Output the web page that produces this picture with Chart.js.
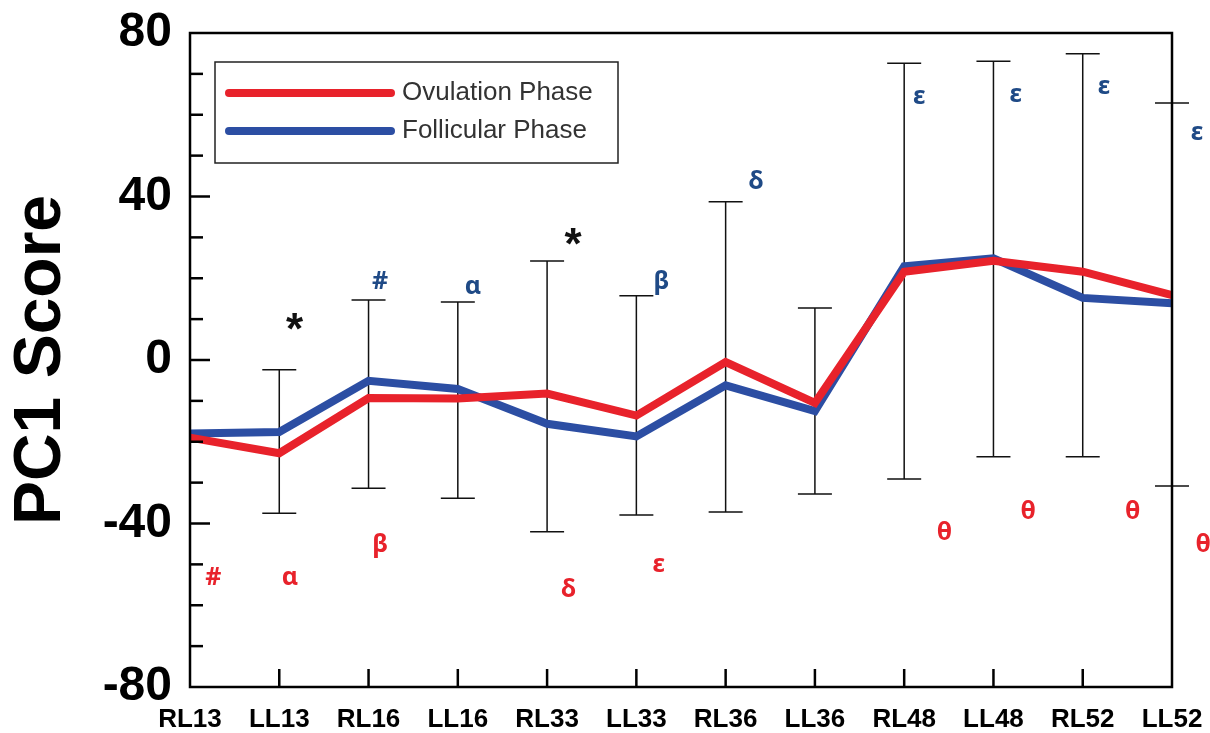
<!DOCTYPE html>
<html>
<head>
<meta charset="utf-8">
<script src="https://cdn.jsdelivr.net/npm/chart.js@4.4.1/dist/chart.umd.min.js"></script>
<style>
  html, body { margin: 0; padding: 0; background: #fff; }
  #wrap { width: 1210px; height: 733px; }
</style>
</head>
<body>
<div id="wrap"><canvas id="pcChart"></canvas></div>
<script>
// data
const categories = ['RL13', 'LL13', 'RL16', 'LL16', 'RL33', 'LL33', 'RL36', 'LL36', 'RL48', 'LL48', 'RL52', 'LL52'];
const ovulation = [-19, -22.8, -9.3, -9.4, -8.2, -13.6, -0.5, -10.5, 21.6, 24.3, 21.6, 15.9];
const follicular = [-18, -17.6, -5.1, -7.1, -15.6, -18.7, -6.2, -12.5, 22.9, 24.9, 15.2, 13.9];
const errHigh = [null, -2.4, 14.7, 14.2, 24.2, 15.7, 38.7, 12.7, 72.6, 73.1, 74.9, 62.9];
const errLow = [null, -37.5, -31.4, -33.8, -42, -37.9, -37.2, -32.8, -29.1, -23.7, -23.7, -30.8];
const yTickLabels = [80, 40, 0, -40, -80];

// significance marks
const blueMarks = ['', '', '#', 'α', '', 'β', 'δ', '', 'ε', 'ε', 'ε', 'ε'];
const starMarks = ['', '*', '', '', '*', '', '', '', '', '', '', ''];
const redMarks = ['#', 'α', 'β', '', 'δ', 'ε', '', '', 'θ', 'θ', 'θ', 'θ'];

// where the marks sit: [shift in categories, y value]
const bluePos = [null, null, [0.13, 19.1], [0.17, 17.9], null, [0.28, 19.1], [0.34, 43.5], null, [0.17, 64.3], [0.25, 64.8], [0.24, 66.8], [0.28, 55.5]];
const starPos = [null, [0.17, 7.0], null, null, [0.29, 27.8], null, null, null, null, null, null, null];
const redPos = [[0.26, -53.3], [0.12, -53.3], [0.13, -45.3], null, [0.24, -56.3], [0.25, -50.2], null, null, [0.45, -42.3], [0.39, -37.2], [0.56, -37.2], [0.35, -45.3]];

const RED = '#e8222b';
const BLUE = '#2c4ea3';
const MARK_BLUE = '#1f4a86';
const AXIS_FONT = 'Arial, "Liberation Sans", sans-serif';

const overlay = {
  id: 'overlay',
  beforeDatasetsDraw(chart) {
    const ctx = chart.ctx, x = chart.scales.x, y = chart.scales.y;
    ctx.save();
    ctx.strokeStyle = '#111';
    ctx.lineWidth = 1.5;
    categories.forEach((c, i) => {
      if (errHigh[i] == null) return;
      const px = x.getPixelForValue(i);
      const top = y.getPixelForValue(errHigh[i]);
      const bot = y.getPixelForValue(errLow[i]);
      ctx.beginPath();
      ctx.moveTo(px, top); ctx.lineTo(px, bot);
      ctx.moveTo(px - 17, top); ctx.lineTo(px + 17, top);
      ctx.moveTo(px - 17, bot); ctx.lineTo(px + 17, bot);
      ctx.stroke();
    });
    ctx.restore();
  },
  afterDraw(chart) {
    const ctx = chart.ctx, x = chart.scales.x, y = chart.scales.y;
    const a = chart.chartArea;
    ctx.save();
    // frame
    ctx.strokeStyle = '#000';
    ctx.lineWidth = 2.5;
    ctx.strokeRect(a.left, a.top, a.right - a.left, a.bottom - a.top);
    // inward ticks on y
    for (let v = -70; v <= 70; v += 10) {
      const py = y.getPixelForValue(v);
      const len = (v % 40 === 0) ? 20 : 13;
      ctx.beginPath();
      ctx.moveTo(a.left, py); ctx.lineTo(a.left + len, py);
      ctx.stroke();
    }
    // upward ticks on x
    categories.forEach((c, i) => {
      if (i === 0 || i === categories.length - 1) return;
      const px = x.getPixelForValue(i);
      ctx.beginPath();
      ctx.moveTo(px, a.bottom); ctx.lineTo(px, a.bottom - 18);
      ctx.stroke();
    });

    // legend
    const lx = a.left + 25, ly = a.top + 29;
    ctx.lineWidth = 1.5;
    ctx.strokeStyle = '#222';
    ctx.strokeRect(lx, ly, 403, 101);
    ctx.lineCap = 'round';
    ctx.lineWidth = 8;
    ctx.strokeStyle = RED;
    ctx.beginPath(); ctx.moveTo(lx + 14, ly + 31); ctx.lineTo(lx + 176, ly + 31); ctx.stroke();
    ctx.strokeStyle = BLUE;
    ctx.beginPath(); ctx.moveTo(lx + 14, ly + 69); ctx.lineTo(lx + 176, ly + 69); ctx.stroke();
    ctx.fillStyle = '#333';
    ctx.font = '26px ' + AXIS_FONT;
    ctx.textBaseline = 'middle';
    ctx.textAlign = 'left';
    ctx.fillText(chart.data.datasets[0].label, lx + 187, ly + 31);
    ctx.fillText(chart.data.datasets[1].label, lx + 187, ly + 69);

    // significance marks
    ctx.textAlign = 'center';
    const step = x.getPixelForValue(1) - x.getPixelForValue(0);
    const drawMarks = (texts, pos, color, font) => {
      ctx.fillStyle = color;
      ctx.font = font;
      texts.forEach((t, i) => {
        if (!t || !pos[i]) return;
        const px = x.getPixelForValue(i) + pos[i][0] * step;
        ctx.fillText(t, px, y.getPixelForValue(pos[i][1]));
      });
    };
    drawMarks(blueMarks, bluePos, MARK_BLUE, 'bold 25px "Noto Sans", sans-serif');
    drawMarks(redMarks, redPos, RED, 'bold 25px "Noto Sans", sans-serif');
    drawMarks(starMarks, starPos, '#111', 'bold 44px ' + AXIS_FONT);
    ctx.restore();
  }
};

new Chart(document.getElementById('pcChart'), {
  type: 'line',
  data: {
    labels: categories,
    datasets: [
      { label: 'Ovulation Phase', data: ovulation, borderColor: RED, backgroundColor: RED, borderWidth: 8, pointRadius: 0, tension: 0 },
      { label: 'Follicular Phase', data: follicular, borderColor: BLUE, backgroundColor: BLUE, borderWidth: 8, pointRadius: 0, tension: 0 }
    ]
  },
  options: {
    responsive: true,
    maintainAspectRatio: false,
    animation: false,
    layout: { padding: { top: 33, right: 38, left: 0, bottom: 0 } },
    plugins: { legend: { display: false }, tooltip: { enabled: false } },
    scales: {
      x: {
        offset: false,
        grid: { display: false, drawTicks: false },
        border: { display: false },
        ticks: { color: '#000', font: { family: AXIS_FONT, size: 26, weight: 'bold' }, padding: 17, maxRotation: 0, autoSkip: false },
        afterFit: s => { s.height = 46; s.paddingLeft = 0; s.paddingRight = 0; }
      },
      y: {
        min: -80,
        max: 80,
        grid: { display: false, drawTicks: false },
        border: { display: false },
        ticks: {
          stepSize: 10,
          autoSkip: false,
          color: '#000',
          padding: 18,
          font: { family: AXIS_FONT, size: 48, weight: 'bold' },
          callback: v => yTickLabels.includes(v) ? String(v) : ''
        },
        title: {
          display: true,
          text: 'PC1 Score',
          color: '#000',
          font: { family: AXIS_FONT, size: 66, weight: 'bold' },
          padding: { top: 2, bottom: 0 }
        },
        afterFit: s => { s.width = 190; s.paddingTop = 0; s.paddingBottom = 0; }
      }
    }
  },
  plugins: [overlay]
});
</script>
</body>
</html>
